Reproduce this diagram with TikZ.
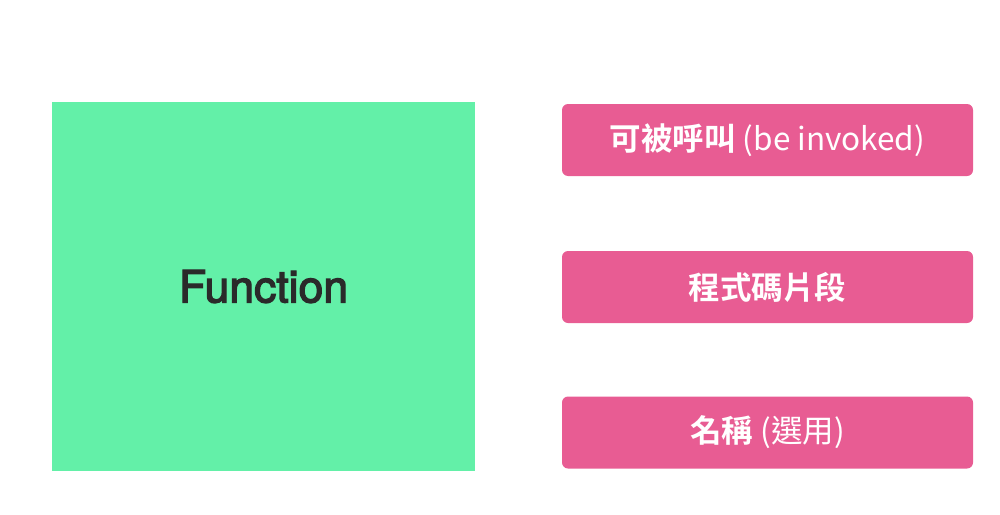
\documentclass[tikz,border=0pt]{standalone}
\usepackage{fontspec}
\setmainfont{TeX Gyre Heros}
\newfontfamily\funcfont{TeX Gyre Heros}[FakeBold=3]
\newfontfamily\cjk{Noto Sans CJK TC}[BoldFont={Noto Sans CJK TC Bold}]
\definecolor{fgreen}{HTML}{63F0A8}
\definecolor{fpink}{HTML}{E85C93}
\definecolor{ftext}{HTML}{2A2A2A}
\tikzset{
  funcbox/.style={fill=fgreen, draw=none, minimum width=423pt, minimum height=369pt, inner sep=0pt,
    text=ftext, font=\funcfont\fontsize{44.5}{52}\selectfont},
  propbox/.style={fill=fpink, draw=none, rounded corners=6pt, minimum width=411pt, minimum height=72pt, inner sep=0pt,
    text=white, font=\cjk\fontsize{31.5}{38}\selectfont}
}
\begin{document}
\begin{tikzpicture}[x=1pt,y=-1pt]
\useasboundingbox (0,0) rectangle (1000,514);
\node[funcbox] (func) at (263.5,286.5) {Function};
\node[propbox] (p1) at (767.5,140) {{\bfseries 可被呼叫} (be invoked)};
\node[propbox] (p2) at (767.5,287) {\bfseries 程式碼片段};
\node[propbox] (p3) at (767.5,432.5) {{\bfseries 名稱} (選用)};
\end{tikzpicture}
\end{document}
